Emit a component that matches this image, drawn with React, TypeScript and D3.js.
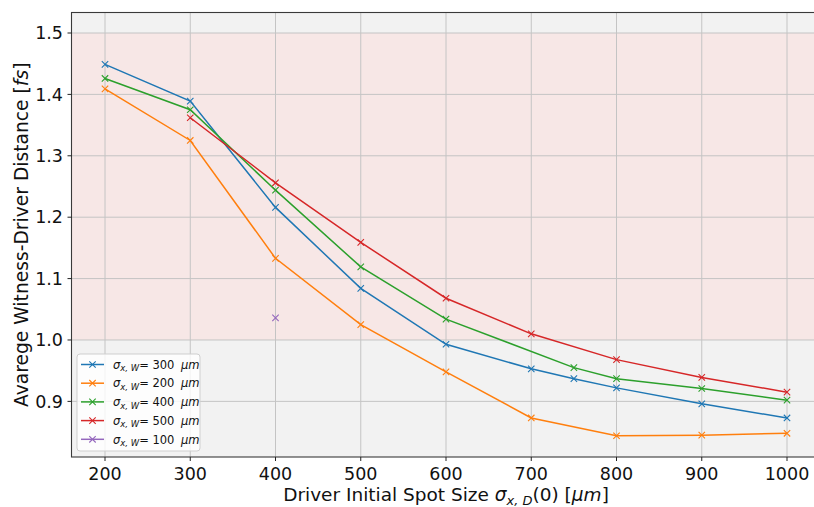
import * as d3 from 'd3';

// spot sizes of the driver, one list per witness spot size
const xs300 = [200, 300, 400, 500, 600, 700, 750, 800, 900, 1000];
const ys300 = [1.449, 1.389, 1.216, 1.084, 0.993, 0.953, 0.937, 0.922, 0.896, 0.873];
const xs200 = [200, 300, 400, 500, 600, 700, 800, 900, 1000];
const ys200 = [1.409, 1.325, 1.133, 1.025, 0.948, 0.873, 0.844, 0.845, 0.848];
const xs400 = [200, 300, 400, 500, 600, 750, 800, 900, 1000];
const ys400 = [1.426, 1.375, 1.244, 1.119, 1.034, 0.955, 0.937, 0.921, 0.902];
const xs500 = [300, 400, 500, 600, 700, 800, 900, 1000];
const ys500 = [1.362, 1.256, 1.159, 1.068, 1.010, 0.968, 0.939, 0.915];
const xs100 = [400];
const ys100 = [1.036];

const witnessSizes = ['300', '200', '400', '500', '100'];
const xTicks = [200, 300, 400, 500, 600, 700, 800, 900, 1000];
const yTicks = [0.9, 1.0, 1.1, 1.2, 1.3, 1.4, 1.5];
const bandRange = [1.0, 1.5];

const colors = ['#1f77b4', '#ff7f0e', '#2ca02c', '#d62728', '#9467bd'];

const W = 814;
const H = 507;
const margin = { left: 71.5, right: 820, top: 12.5, bottom: 457 };
const font = 'DejaVu Sans, sans-serif';

export default function App() {
  const x = d3.scaleLinear().domain([160.7, 1038.7]).range([margin.left, margin.right]);
  const y = d3.scaleLinear().domain([0.8094, 1.5334]).range([margin.bottom, margin.top]);

  const series = [
    d3.zip(xs300, ys300),
    d3.zip(xs200, ys200),
    d3.zip(xs400, ys400),
    d3.zip(xs500, ys500),
    d3.zip(xs100, ys100),
  ] as [number, number][][];

  const line = d3.line<[number, number]>()
    .x(d => x(d[0]))
    .y(d => y(d[1]));

  const cross = (cx: number, cy: number, c: string, k: string) => (
    <path key={k} d={`M${cx - 3.2},${cy - 3.2}L${cx + 3.2},${cy + 3.2}M${cx - 3.2},${cy + 3.2}L${cx + 3.2},${cy - 3.2}`}
      stroke={c} strokeWidth={1.1} fill="none" />
  );

  const pw = margin.right - margin.left;
  const ph = margin.bottom - margin.top;
  const legX = 77;
  const legY = 354;

  return (
    <svg width={W} height={H} style={{ position: 'fixed', left: 0, top: 0, background: '#fff' }}
      fontFamily={font}>
      <defs>
        <clipPath id="plot">
          <rect x={margin.left} y={margin.top} width={pw} height={ph} />
        </clipPath>
      </defs>
      <rect x={margin.left} y={margin.top} width={pw} height={ph} fill="#f2f2f2" />
      <rect x={margin.left} y={y(bandRange[1])} width={pw} height={y(bandRange[0]) - y(bandRange[1])}
        fill="#f7e7e6" />
      <g stroke="#c4c4c4" strokeWidth={1}>
        {xTicks.map(t => <line key={'gx' + t} x1={x(t)} x2={x(t)} y1={margin.top} y2={margin.bottom} />)}
        {yTicks.map(t => <line key={'gy' + t} x1={margin.left} x2={margin.right} y1={y(t)} y2={y(t)} />)}
      </g>
      <g clipPath="url(#plot)">
        {series.map((s, i) => (
          <g key={'s' + i}>
            <path d={line(s) || ''} fill="none" stroke={colors[i]} strokeWidth={1.5} />
            {s.map((d, j) => cross(x(d[0]), y(d[1]), colors[i], `m${i}-${j}`))}
          </g>
        ))}
      </g>
      <g stroke="#3a3a3a" strokeWidth={1.1} fill="none">
        <rect x={margin.left} y={margin.top} width={pw} height={ph} />
      </g>
      <g fontSize={17.5} fill="#111">
        {xTicks.map(t => (
          <g key={'xt' + t}>
            <line x1={x(t)} x2={x(t)} y1={margin.bottom} y2={margin.bottom + 4} stroke="#222" />
            <text x={x(t)} y={margin.bottom + 23} textAnchor="middle">{t}</text>
          </g>
        ))}
        {yTicks.map(t => (
          <g key={'yt' + t}>
            <line x1={margin.left - 4} x2={margin.left} y1={y(t)} y2={y(t)} stroke="#222" />
            <text x={margin.left - 8.5} y={y(t)} dy="0.36em" textAnchor="end">{d3.format('.1f')(t)}</text>
          </g>
        ))}
      </g>
      <text x={446} y={501} textAnchor="middle" fontSize={18.5} fill="#111">
        Driver Initial Spot Size <tspan fontStyle="italic">σ</tspan>
        <tspan fontStyle="italic" fontSize={13} dy={4}>x, D</tspan>
        <tspan dy={-4}>(0) [</tspan><tspan fontStyle="italic">μm</tspan>]
      </text>
      <text transform={`translate(27.5,${(margin.top + margin.bottom) / 2}) rotate(-90)`} textAnchor="middle"
        fontSize={18.7} fill="#111">
        Avarege Witness-Driver Distance [<tspan fontStyle="italic">fs</tspan>]
      </text>
      <g>
        <rect x={legX} y={legY} width={123} height={97} rx={3} fill="#fff" fillOpacity={0.8}
          stroke="#cfcfcf" strokeWidth={1} />
        {witnessSizes.map((w, i) => {
          const cy = legY + 10.5 + i * 18.7;
          return (
            <g key={'lg' + w}>
              <line x1={legX + 4} x2={legX + 27} y1={cy} y2={cy} stroke={colors[i]} strokeWidth={1.5} />
              {cross(legX + 15.5, cy, colors[i], 'lm' + i)}
              <text x={legX + 36} y={cy + 4.2} fontSize={11.5} fill="#111">
                <tspan fontStyle="italic">σ</tspan>
                <tspan fontStyle="italic" fontSize={8.5} dy={2.5}>x, W</tspan>
                <tspan dy={-2.5}>= {w}  </tspan><tspan fontStyle="italic" dx={3}>μm</tspan>
              </text>
            </g>
          );
        })}
      </g>
    </svg>
  );
}
